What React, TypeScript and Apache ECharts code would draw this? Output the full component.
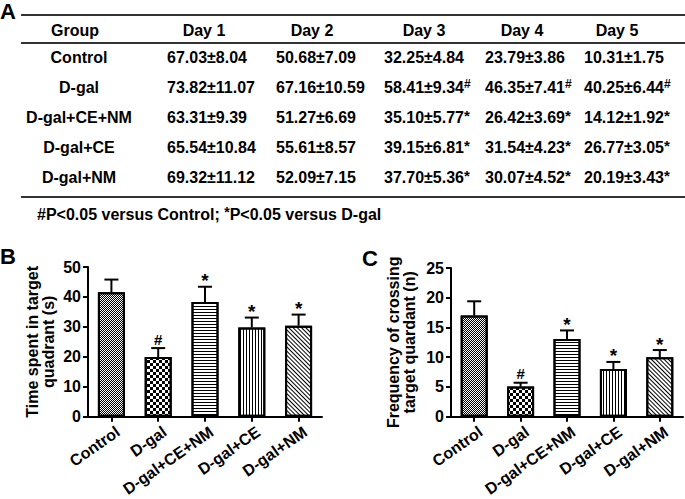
import React, { useEffect, useRef } from 'react';
import * as echarts from 'echarts';

// ---------- data ----------
const groups = ['Control', 'D-gal', 'D-gal+CE+NM', 'D-gal+CE', 'D-gal+NM'];
const days = ['Day 1', 'Day 2', 'Day 3', 'Day 4', 'Day 5'];
const latencyMean = [
  [67.03, 50.68, 32.25, 23.79, 10.31],
  [73.82, 67.16, 58.41, 46.35, 40.25],
  [63.31, 51.27, 35.1, 26.42, 14.12],
  [65.54, 55.61, 39.15, 31.54, 26.77],
  [69.32, 52.09, 37.7, 30.07, 20.19],
];
const latencySd = [
  [8.04, 7.09, 4.84, 3.86, 1.75],
  [11.07, 10.59, 9.34, 7.41, 6.44],
  [9.39, 6.69, 5.77, 3.69, 1.92],
  [10.84, 8.57, 6.81, 4.23, 3.05],
  [11.12, 7.15, 5.36, 4.52, 3.43],
];
const latencySig = [
  ['', '', '', '', ''],
  ['', '', '#', '#', '#'],
  ['', '', '*', '*', '*'],
  ['', '', '*', '*', '*'],
  ['', '', '*', '*', '*'],
];
const timeMean = [41.6, 19.9, 38.3, 29.8, 30.4];
const timeSd = [4.2, 3.0, 5.1, 3.3, 3.7];
const crossMean = [17.0, 5.05, 13.05, 8.0, 10.0];
const crossSd = [2.4, 0.65, 1.45, 1.2, 1.2];
const sigMarks = ['', '#', '*', '*', '*'];
const footnote = ['#P<0.05 versus Control; ', '*', 'P<0.05 versus D-gal'];
const yNameB = 'Time spent in target\nquadrant (s)';
const yNameC = 'Frequency of crossing\ntarget quardant (n)';

// ---------- layout / style ----------
const FONT = '"Liberation Sans", Arial, Helvetica, sans-serif';
const headerX = [75, 204, 312, 424, 522, 617];
const valueX = [167, 276, 384, 485, 584];
const groupX = 79;
const headerY = 30;
const rowY0 = 57;
const rowStep = 30.2;

const decals: any[] = [
  { symbol: 'rect', symbolSize: 1, color: '#000', dashArrayX: [[1, 1], [0, 1, 1, 0]], dashArrayY: [1, 0] },
  { symbol: 'rect', symbolSize: 1, color: '#000', dashArrayX: [[3, 3], [0, 3, 3, 0]], dashArrayY: [3, 0] },
  { symbol: 'rect', symbolSize: 1, color: '#000', dashArrayX: [1, 0], dashArrayY: [1, 2] },
  { symbol: 'rect', symbolSize: 1, color: '#000', dashArrayX: [1, 2], dashArrayY: [1, 0] },
  { symbol: 'rect', symbolSize: 1, color: '#000', dashArrayX: [1, 0], dashArrayY: [1, 2], rotation: Math.PI / 4 },
];

function tableGraphics() {
  const els: any[] = [];
  const txt = (x: number, y: number, text: string, align: string, rich?: any) => ({
    type: 'text',
    x,
    y,
    silent: true,
    style: {
      text,
      fill: '#000',
      font: `bold 16px ${FONT}`,
      fontWeight: 'bold',
      fontSize: 16,
      fontFamily: FONT,
      align,
      textAlign: align,
      verticalAlign: 'middle',
      textVerticalAlign: 'middle',
      rich,
    },
  });
  const rich = {
    n: { fontSize: 16, fontWeight: 'bold', fontFamily: FONT, fill: '#000', color: '#000', lineHeight: 19 },
    h: { fontSize: 12, fontWeight: 'bold', fontFamily: FONT, fill: '#000', color: '#000', verticalAlign: 'top', lineHeight: 12 },
    a: { fontSize: 15, fontWeight: 'bold', fontFamily: FONT, fill: '#000', color: '#000', verticalAlign: 'top', lineHeight: 15 },
    f: { fontSize: 14, fontWeight: 'bold', fontFamily: FONT, fill: '#000', color: '#000', verticalAlign: 'top', lineHeight: 13 },
  };
  // panel letters
  els.push({ type: 'text', x: 0, y: 0, silent: true, style: { text: 'A', fill: '#000', font: `bold 22px ${FONT}` } });
  els.push({ type: 'text', x: 0, y: 245, silent: true, style: { text: 'B', fill: '#000', font: `bold 22px ${FONT}` } });
  els.push({ type: 'text', x: 362, y: 247, silent: true, style: { text: 'C', fill: '#000', font: `bold 22px ${FONT}` } });
  // rules
  const rule = (y: number) => ({
    type: 'line',
    silent: true,
    shape: { x1: 21, y1: y, x2: 685, y2: y },
    style: { stroke: '#333', lineWidth: 2 },
  });
  els.push(rule(15), rule(43), rule(197));
  // header
  els.push(txt(headerX[0], headerY, 'Group', 'center'));
  days.forEach((d, j) => els.push(txt(headerX[j + 1], headerY, d, 'center')));
  // rows
  groups.forEach((g, i) => {
    const y = rowY0 + rowStep * i;
    els.push(txt(groupX, y, g, 'center'));
    days.forEach((_, j) => {
      const base = `${latencyMean[i][j].toFixed(2)}±${latencySd[i][j].toFixed(2)}`;
      const s = latencySig[i][j];
      const text = s ? `{n|${base}}{${s === '#' ? 'h' : 'a'}|${s}}` : `{n|${base}}`;
      els.push(txt(valueX[j], y, text, 'left', rich));
    });
  });
  // footnote
  els.push(txt(37, 214, `{n|${footnote[0]}}{f|${footnote[1]}}{n|${footnote[2]}}`, 'left', rich));
  return els;
}

function axisStyle() {
  return {
    axisLine: { show: true, lineStyle: { color: '#000', width: 2 } },
    axisTick: { show: true, length: 5, lineStyle: { color: '#000', width: 2 } },
  };
}

function barSeries(idx: number, means: number[]) {
  return {
    type: 'bar',
    xAxisIndex: idx,
    yAxisIndex: idx,
    barWidth: 27,
    silent: true,
    data: means.map((v, i) => ({
      value: v,
      itemStyle: { color: '#fff', borderColor: '#000', borderWidth: 2, decal: decals[i] },
    })),
  };
}

function errSeries(idx: number, means: number[], sds: number[]) {
  return {
    type: 'custom',
    xAxisIndex: idx,
    yAxisIndex: idx,
    silent: true,
    z: 5,
    data: means.map((m, i) => [i, m, sds[i]]),
    renderItem: (params: any, api: any) => {
      const i = api.value(0);
      const m = api.value(1);
      const s = api.value(2);
      const b = api.coord([i, m]);
      const t = api.coord([i, m + s]);
      const mark = sigMarks[params.dataIndex];
      const children: any[] = [
        { type: 'line', shape: { x1: b[0], y1: b[1], x2: t[0], y2: t[1] }, style: { stroke: '#000', lineWidth: 2 } },
        { type: 'line', shape: { x1: t[0] - 7, y1: t[1], x2: t[0] + 7, y2: t[1] }, style: { stroke: '#000', lineWidth: 2 } },
      ];
      if (mark) {
        children.push({
          type: 'text',
          x: t[0],
          y: mark === '#' ? t[1] - 9 : t[1] - 6,
          style: {
            text: mark,
            fill: '#000',
            font: `bold ${mark === '#' ? 15 : 19}px ${FONT}`,
            align: 'center',
            verticalAlign: 'middle',
            textAlign: 'center',
            textVerticalAlign: 'middle',
          },
        });
      }
      return { type: 'group', children };
    },
  };
}

function xAxis(idx: number) {
  return {
    type: 'category',
    gridIndex: idx,
    data: groups,
    ...axisStyle(),
    axisTick: { show: true, alignWithLabel: true, length: 5, lineStyle: { color: '#000', width: 2 } },
    axisLabel: {
      interval: 0,
      rotate: 35,
      margin: 18,
      color: '#000',
      fontWeight: 'bold',
      fontSize: 16,
      fontFamily: FONT,
      padding: [0, -8, 0, 0],
    },
  };
}

function yAxis(idx: number, max: number, interval: number, name: string, gap: number) {
  return {
    type: 'value',
    gridIndex: idx,
    min: 0,
    max,
    interval,
    splitLine: { show: false },
    ...axisStyle(),
    axisLabel: { color: '#000', fontWeight: 'bold', fontSize: 16, fontFamily: FONT, margin: 7 },
    name,
    nameLocation: 'middle',
    nameGap: gap,
    nameTextStyle: { color: '#000', fontWeight: 'bold', fontSize: 16, fontFamily: FONT, lineHeight: 16 },
  };
}

export default function App() {
  const ref = useRef<HTMLDivElement>(null);
  useEffect(() => {
    document.body.style.margin = '0';
    if (!ref.current) return;
    const chart = echarts.init(ref.current, null, { renderer: 'svg' });
    chart.setOption({
      animation: false,
      backgroundColor: '#fff',
      textStyle: { fontFamily: FONT },
      grid: [
        { left: 88, top: 267, width: 234, height: 156 },
        { left: 451, top: 268, width: 232, height: 155 },
      ],
      xAxis: [xAxis(0), xAxis(1)],
      yAxis: [yAxis(0, 50, 10, yNameB, 32), yAxis(1, 25, 5, yNameC, 34)],
      series: [
        barSeries(0, timeMean),
        errSeries(0, timeMean, timeSd),
        barSeries(1, crossMean),
        errSeries(1, crossMean, crossSd),
      ],
      graphic: { elements: tableGraphics() },
    });
    return () => chart.dispose();
  }, []);
  return <div ref={ref} style={{ width: 685, height: 499 }} />;
}
